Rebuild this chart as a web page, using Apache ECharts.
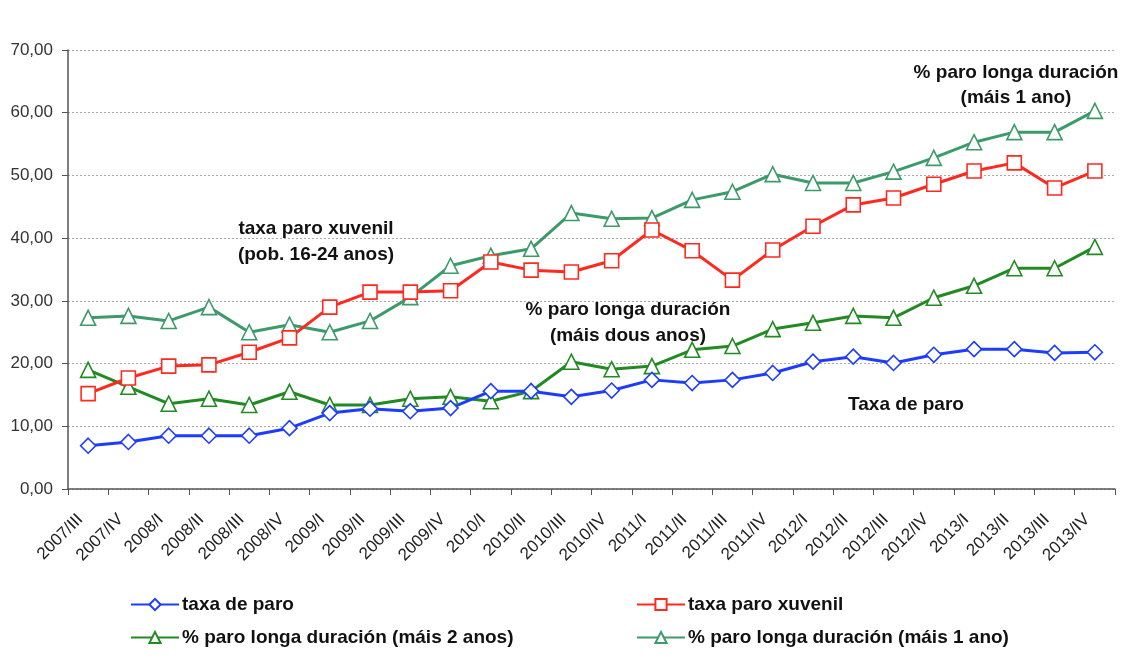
<!DOCTYPE html>
<html>
<head>
    <meta charset="utf-8">
    <style>
        html, body { margin: 0; padding: 0; background: #fff; }
        #main { width: 1128px; height: 664px; }
    </style>
    <script src="https://cdn.jsdelivr.net/npm/echarts@6/dist/echarts.min.js"></script>
</head>
<body>
    <div id="main"></div>
    <script type="text/javascript">
        // trimestres
        var quarters = ['2007/III', '2007/IV',
            '2008/I', '2008/II', '2008/III', '2008/IV',
            '2009/I', '2009/II', '2009/III', '2009/IV',
            '2010/I', '2010/II', '2010/III', '2010/IV',
            '2011/I', '2011/II', '2011/III', '2011/IV',
            '2012/I', '2012/II', '2012/III', '2012/IV',
            '2013/I', '2013/II', '2013/III', '2013/IV'];

        var taxaParo = [6.9, 7.5, 8.5, 8.5, 8.5, 9.7, 12.1, 12.8, 12.4, 12.9,
            15.6, 15.6, 14.7, 15.7, 17.4, 16.9, 17.4, 18.5, 20.3, 21.1,
            20.1, 21.4, 22.3, 22.3, 21.7, 21.8];

        var taxaXuvenil = [15.2, 17.7, 19.6, 19.8, 21.8, 24.1, 29.0, 31.4, 31.4, 31.6,
            36.2, 34.9, 34.6, 36.4, 41.3, 38.0, 33.3, 38.1, 41.9, 45.3,
            46.4, 48.6, 50.7, 52.0, 48.0, 50.7];

        var longaDous = [19.0, 16.3, 13.6, 14.4, 13.4, 15.5, 13.4, 13.4, 14.4, 14.7,
            14.0, 15.6, 20.3, 19.1, 19.6, 22.2, 22.8, 25.5, 26.5, 27.6,
            27.3, 30.5, 32.4, 35.2, 35.2, 38.6];

        var longaUn = [27.3, 27.6, 26.8, 29.0, 25.0, 26.2, 25.0, 26.8, 30.6, 35.6,
            37.2, 38.3, 44.0, 43.1, 43.2, 46.1, 47.4, 50.2, 48.8, 48.8,
            50.6, 52.8, 55.3, 56.9, 56.9, 60.3];

        var seriesNames = ['taxa de paro', 'taxa paro xuvenil',
            '% paro longa duración (máis 2 anos)', '% paro longa duración (máis 1 ano)'];

        var font = '"Liberation Sans", Arial, sans-serif';
        var myChart = echarts.init(document.getElementById('main'));

        function mkSeries(name, data, color, symbol, size) {
            return {
                name: name,
                type: 'line',
                data: data,
                symbol: symbol,
                symbolSize: size,
                color: color,
                lineStyle: { color: color, width: 3 },
                itemStyle: { color: '#fff', borderColor: color, borderWidth: 1.6 },
                animation: false,
                z: 3
            };
        }

        function mkLegend(name, left, top) {
            return {
                data: [name],
                left: left,
                top: top,
                itemWidth: 48,
                itemHeight: 14,
                itemGap: 4,
                padding: 0,
                textStyle: { fontFamily: font, fontSize: 19, fontWeight: 'bold', color: '#111', padding: [0, 0, 0, -2] },
                selectedMode: false
            };
        }

        function note(text, x, y) {
            return {
                type: 'text',
                x: x,
                y: y,
                z: 10,
                style: {
                    text: text,
                    font: 'bold 19px ' + font,
                    fill: '#111',
                    align: 'center',
                    verticalAlign: 'middle'
                }
            };
        }

        var option = {
            backgroundColor: '#fff',
            grid: { left: 68, right: 13, top: 50, bottom: 175 },
            legend: [
                mkLegend(seriesNames[0], 130, 595),
                mkLegend(seriesNames[1], 636, 595),
                mkLegend(seriesNames[2], 130, 628),
                mkLegend(seriesNames[3], 636, 628)
            ],
            xAxis: {
                type: 'category',
                data: quarters,
                boundaryGap: true,
                axisLine: { lineStyle: { color: '#555', width: 1.5 } },
                axisTick: { show: true, length: 6, lineStyle: { color: '#555' } },
                axisLabel: {
                    rotate: 45,
                    interval: 0,
                    fontFamily: font,
                    fontSize: 17,
                    color: '#222',
                    margin: 20,
                    padding: [0, 11, 0, 0]
                }
            },
            yAxis: {
                type: 'value',
                min: 0,
                max: 70,
                interval: 10,
                axisLine: { show: true, lineStyle: { color: '#555', width: 1.5 } },
                axisTick: { show: true, length: 6, lineStyle: { color: '#555' } },
                axisLabel: {
                    fontFamily: font,
                    fontSize: 17,
                    color: '#333',
                    margin: 15,
                    formatter: function (v) { return v.toFixed(2).replace('.', ','); }
                },
                splitLine: { show: true, lineStyle: { color: '#aaa', type: [2, 2], width: 1 } }
            },
            graphic: [
                note('% paro longa duración', 1016, 73),
                note('(máis 1 ano)', 1016, 98),
                note('taxa paro xuvenil', 316, 229),
                note('(pob. 16-24 anos)', 316, 255),
                note('% paro longa duración', 628, 310),
                note('(máis dous anos)', 628, 336),
                note('Taxa de paro', 906, 405)
            ],
            series: [
                mkSeries(seriesNames[3], longaUn, '#3d9a6a', 'triangle', 15),
                mkSeries(seriesNames[2], longaDous, '#228a22', 'triangle', 15),
                mkSeries(seriesNames[1], taxaXuvenil, '#ff2a1f', 'rect', 14),
                mkSeries(seriesNames[0], taxaParo, '#1e3cff', 'diamond', 15)
            ]
        };

        myChart.setOption(option);
    </script>
</body>
</html>
